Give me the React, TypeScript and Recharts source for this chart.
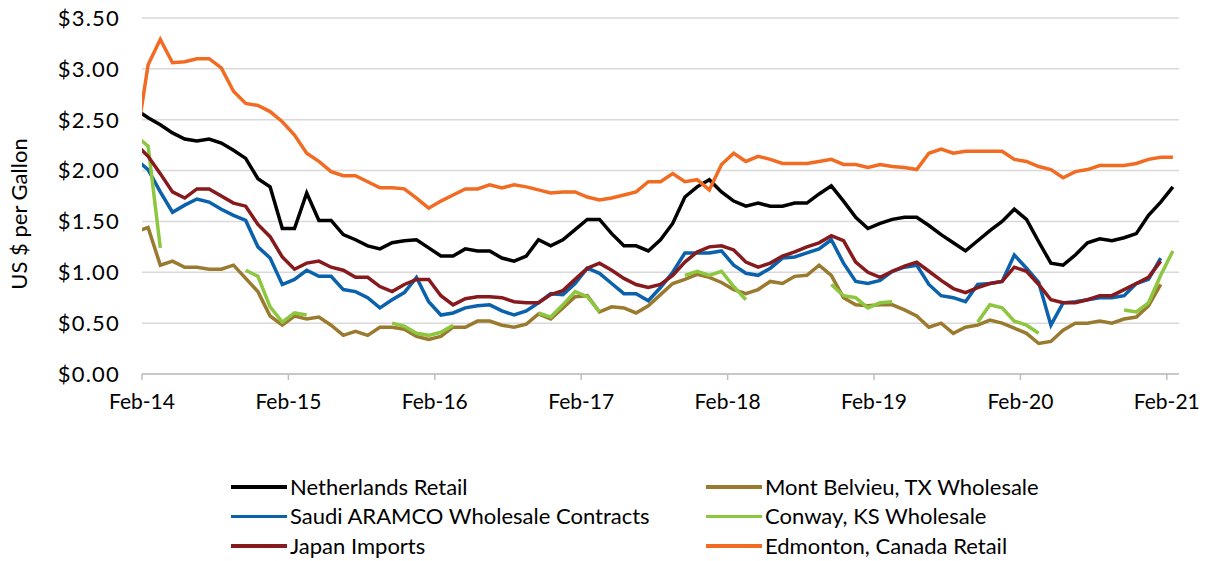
import React from 'react';
import { LineChart, Line, XAxis, YAxis, CartesianGrid, Legend } from 'recharts';

// Monthly observations, Jan-14 .. Feb-21 (mid-month); axis ticks on the 1st of Feb each year
const tickLabels = ['Feb-14', 'Feb-15', 'Feb-16', 'Feb-17', 'Feb-18', 'Feb-19', 'Feb-20', 'Feb-21'];
const tickMonths = [0, 12, 24, 36, 48, 60, 72, 84];
const yTicks = [0, 0.5, 1, 1.5, 2, 2.5, 3, 3.5];

const netherlands = [
  2.60, 2.52, 2.45, 2.37, 2.31, 2.29, 2.31, 2.27, 2.20, 2.12, 1.92, 1.84, 1.43, 1.43, 1.78, 1.51,
  1.51, 1.37, 1.32, 1.26, 1.23, 1.29, 1.31, 1.32, 1.24, 1.16, 1.16, 1.23, 1.21, 1.21, 1.14, 1.11,
  1.16, 1.32, 1.26, 1.32, 1.42, 1.52, 1.52, 1.38, 1.26, 1.26, 1.21, 1.32, 1.48, 1.74, 1.84, 1.91,
  1.79, 1.70, 1.65, 1.68, 1.65, 1.65, 1.68, 1.68, 1.77, 1.85, 1.70, 1.54, 1.43, 1.48, 1.52, 1.54,
  1.54, 1.46, 1.37, 1.29, 1.21, 1.31, 1.41, 1.50, 1.62, 1.52, 1.30, 1.09, 1.07, 1.17, 1.29, 1.33,
  1.31, 1.34, 1.38, 1.56, 1.69, 1.84,
];

const montBelvieu = [
  1.40, 1.44, 1.07, 1.11, 1.05, 1.05, 1.03, 1.03, 1.07, 0.94, 0.81, 0.57, 0.48, 0.57, 0.54, 0.56,
  0.48, 0.38, 0.42, 0.38, 0.46, 0.46, 0.44, 0.37, 0.34, 0.37, 0.46, 0.46, 0.52, 0.52, 0.48, 0.46,
  0.49, 0.59, 0.54, 0.65, 0.76, 0.77, 0.61, 0.66, 0.65, 0.60, 0.67, 0.78, 0.89, 0.93, 0.98, 0.95,
  0.90, 0.83, 0.79, 0.83, 0.91, 0.89, 0.96, 0.97, 1.07, 0.97, 0.75, 0.68, 0.67, 0.68, 0.68, 0.63,
  0.57, 0.46, 0.50, 0.40, 0.46, 0.48, 0.53, 0.50, 0.45, 0.40, 0.30, 0.32, 0.43, 0.50, 0.50, 0.52,
  0.50, 0.54, 0.56, 0.67, 0.88, null,
];

const saudi = [
  2.11, 2.01, 1.79, 1.59, 1.66, 1.72, 1.69, 1.62, 1.56, 1.51, 1.25, 1.14, 0.88, 0.93, 1.02, 0.96,
  0.96, 0.83, 0.81, 0.75, 0.65, 0.73, 0.80, 0.95, 0.71, 0.58, 0.60, 0.65, 0.67, 0.68, 0.62, 0.58,
  0.62, 0.70, 0.79, 0.78, 0.89, 1.04, 0.99, 0.89, 0.79, 0.79, 0.72, 0.85, 1.00, 1.19, 1.19, 1.19,
  1.21, 1.07, 0.99, 0.97, 1.04, 1.14, 1.15, 1.19, 1.23, 1.32, 1.09, 0.91, 0.89, 0.92, 1.01, 1.05,
  1.07, 0.88, 0.77, 0.75, 0.71, 0.88, 0.89, 0.91, 1.17, 1.04, 0.90, 0.48, 0.70, 0.71, 0.73, 0.75,
  0.75, 0.77, 0.89, 0.93, 1.14, null,
];

const conway = [
  2.34, 2.24, 1.24, null, null, null, null, null, null, 1.02, 0.96, 0.66, 0.51, 0.60, 0.58, null,
  null, null, null, null, null, 0.50, 0.47, 0.40, 0.38, 0.41, 0.48, null, null, null, null, null,
  null, 0.60, 0.56, 0.68, 0.81, 0.76, 0.61, null, null, null, null, null, null, 0.97, 1.01, 0.97,
  1.01, 0.86, 0.73, null, null, null, null, null, null, 0.88, 0.77, 0.75, 0.65, 0.70, 0.71, null,
  null, null, null, null, null, 0.51, 0.68, 0.65, 0.52, 0.48, 0.40, null, null, null, null, null,
  null, 0.63, 0.61, 0.70, 0.97, 1.21,
];

const japan = [
  2.26, 2.14, 1.97, 1.79, 1.73, 1.82, 1.82, 1.75, 1.68, 1.65, 1.47, 1.35, 1.15, 1.03, 1.09, 1.11,
  1.05, 1.02, 0.95, 0.95, 0.86, 0.81, 0.88, 0.93, 0.93, 0.77, 0.68, 0.74, 0.76, 0.76, 0.75, 0.71,
  0.70, 0.70, 0.78, 0.82, 0.93, 1.04, 1.09, 1.02, 0.94, 0.88, 0.85, 0.88, 0.97, 1.10, 1.20, 1.25,
  1.26, 1.22, 1.10, 1.05, 1.09, 1.16, 1.20, 1.25, 1.29, 1.36, 1.31, 1.10, 1.00, 0.95, 1.01, 1.06,
  1.10, 1.01, 0.92, 0.84, 0.80, 0.85, 0.89, 0.91, 1.05, 1.01, 0.88, 0.73, 0.70, 0.70, 0.73, 0.77,
  0.77, 0.83, 0.89, 0.95, 1.11, null,
];

const edmonton = [
  2.26, 3.04, 3.29, 3.06, 3.07, 3.10, 3.10, 3.01, 2.78, 2.66, 2.64, 2.58, 2.48, 2.35, 2.17, 2.09,
  1.99, 1.95, 1.95, 1.89, 1.83, 1.83, 1.82, 1.73, 1.63, 1.70, 1.76, 1.82, 1.82, 1.86, 1.83, 1.86,
  1.84, 1.81, 1.78, 1.79, 1.79, 1.74, 1.71, 1.73, 1.76, 1.79, 1.89, 1.89, 1.97, 1.89, 1.91, 1.81,
  2.06, 2.17, 2.09, 2.14, 2.11, 2.07, 2.07, 2.07, 2.09, 2.11, 2.06, 2.06, 2.03, 2.06, 2.04, 2.03,
  2.01, 2.17, 2.21, 2.17, 2.19, 2.19, 2.19, 2.19, 2.11, 2.09, 2.04, 2.01, 1.93, 1.99, 2.01, 2.05,
  2.05, 2.05, 2.07, 2.11, 2.13, 2.13,
];

// Drawing / legend order (legend fills row by row in two columns)
const series = [
  { key: 'netherlands', name: 'Netherlands Retail', color: '#000000', values: netherlands },
  { key: 'montBelvieu', name: 'Mont Belvieu, TX Wholesale', color: '#9A7A2E', values: montBelvieu },
  { key: 'saudi', name: 'Saudi ARAMCO Wholesale Contracts', color: '#0B62AC', values: saudi },
  { key: 'conway', name: 'Conway, KS Wholesale', color: '#8DC63F', values: conway },
  { key: 'japan', name: 'Japan Imports', color: '#861A1C', values: japan },
  { key: 'edmonton', name: 'Edmonton, Canada Retail', color: '#F26B22', values: edmonton },
];

// t = months after 1 Feb 2014 (observations are mid-month, starting Jan-14)
const data = netherlands.map((_, i) => {
  const row: Record<string, number | null> = { t: i - 0.5 };
  series.forEach((s) => {
    row[s.key] = s.values[i];
  });
  return row;
});

const FONT = 'Lato, "DejaVu Sans", sans-serif';

const renderLegend = () => (
  <div
    style={{
      display: 'grid',
      gridTemplateColumns: '475px 420px',
      gridAutoRows: '29.5px',
      fontFamily: FONT,
      fontSize: 22,
      lineHeight: '26px',
      color: '#000',
    }}
  >
    {series.map((s) => (
      <div key={s.key} style={{ display: 'flex', alignItems: 'center', whiteSpace: 'nowrap' }}>
        <span
          style={{
            display: 'inline-block',
            width: 56,
            height: 3.5,
            background: s.color,
            marginRight: 3,
          }}
        />
        <span>{s.name}</span>
      </div>
    ))}
  </div>
);

const YLabel = (props: any) => {
  const vb = props.viewBox || { x: 0, y: 0, width: 0, height: 0 };
  const cx = vb.x + 10;
  const cy = vb.y + vb.height / 2 + 18;
  return (
    <text
      x={cx}
      y={cy}
      transform={`rotate(-90, ${cx}, ${cy})`}
      textAnchor="middle"
      dominantBaseline="central"
      fontFamily={FONT}
      fontSize={22}
      fill="#000"
    >
      US $ per Gallon
    </text>
  );
};

export default function App() {
  return (
    <div style={{ width: 1210, height: 600, margin: -8, position: 'relative' }}>
      <LineChart
        width={1210}
        height={600}
        data={data}
        margin={{ top: 18, right: 31, left: 8, bottom: 186 }}
      >
        <CartesianGrid vertical={false} stroke="#D9D9D9" strokeWidth={1.5} />
        <XAxis
          type="number"
          dataKey="t"
          domain={[0, 85]}
          allowDataOverflow
          ticks={tickMonths}
          tickFormatter={(v: number) => tickLabels[tickMonths.indexOf(v)] ?? ''}
          height={40}
          stroke="#BFBFBF"
          strokeWidth={1.5}
          tickSize={6}
          tickMargin={14}
          tick={{ fill: '#000', fontFamily: FONT, fontSize: 21 }}
          interval={0}
        />
        <YAxis
          type="number"
          domain={[0, 3.5]}
          ticks={yTicks}
          allowDataOverflow
          width={134}
          axisLine={false}
          tickLine={false}
          tickSize={6}
          tickMargin={16}
          tickFormatter={(v: number) => `$${v.toFixed(2)}`}
          tick={{ fill: '#000', fontFamily: FONT, fontSize: 22, letterSpacing: 1.2 }}
          label={<YLabel />}
          interval={0}
        />
        {series.map((s) => (
          <Line
            key={s.key}
            type="linear"
            dataKey={s.key}
            name={s.name}
            stroke={s.color}
            strokeWidth={3.5}
            dot={false}
            activeDot={false}
            connectNulls={false}
            isAnimationActive={false}
          />
        ))}
        <Legend
          layout="horizontal"
          verticalAlign="middle"
          align="center"
          content={renderLegend}
          wrapperStyle={{ top: 472, left: 231, width: 900, height: 89 }}
        />
      </LineChart>
    </div>
  );
}
